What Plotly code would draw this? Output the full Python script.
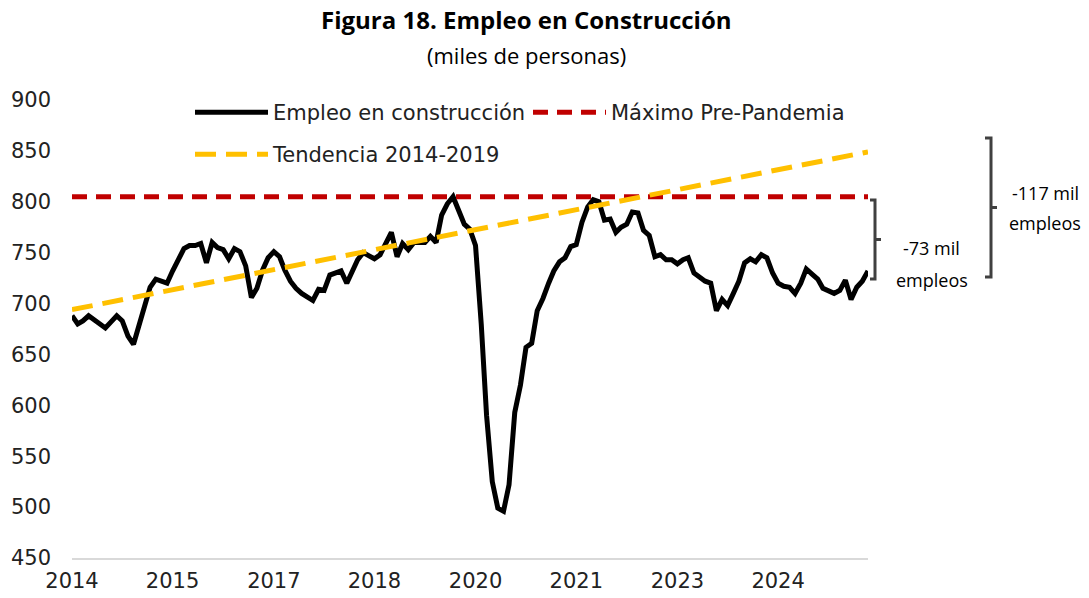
import pandas as pd
import plotly.graph_objects as go

# ---- data (miles de personas), monthly Jan-2014 .. Nov-2025 ----
start_month = "2014-01-01"
empleo = [
    688, 680, 683, 688, 684, 680, 676, 682, 688, 683, 668, 660,
    680, 700, 716, 724, 722, 720, 732, 742, 754, 757, 757, 759,
    740, 760, 755, 753, 744, 754, 751, 737, 706, 715, 733, 745,
    751, 746, 733, 722, 715, 710, 706, 703, 714, 713, 728, 730,
    732, 720, 732, 743, 750, 747, 744, 748, 760, 770, 746, 759,
    753, 760, 760, 760, 766, 760, 787, 798, 805, 790, 778, 773,
    757, 680, 590, 525, 499, 496, 522, 593, 620, 657, 661, 693,
    705, 720, 732, 741, 745, 756, 758, 780, 795, 802, 800, 782,
    783, 770, 775, 778, 790, 789, 772, 767, 746, 748, 743, 743,
    739, 743, 745, 730, 726, 722, 720, 693, 704, 698, 710, 722,
    740, 744, 741, 748, 745, 730, 720, 717, 716, 710, 720, 734,
    729, 724, 715, 713, 710, 713, 723, 704, 716, 722, 732,
]
maximo_pre_pandemia = 805
tendencia_inicio = 694
tendencia_fin = 849
tick_dates = ["2014-01-01", "2015-07-01", "2017-01-01", "2018-07-01",
              "2020-01-01", "2021-07-01", "2023-01-01", "2024-07-01"]
tick_labels = ["2014", "2015", "2017", "2018", "2020", "2021", "2023", "2024"]
brecha_maximo = "-73 mil"
brecha_tendencia = "-117 mil"

fechas = pd.date_range(start_month, periods=len(empleo), freq="MS")
ends = [fechas[0], fechas[-1]]

# plot area geometry (px)
L, R, T, B = 72, 868, 100, 558
W, H = 1089, 598
pw = R - L
def px_x(p):
    return (p - L) / pw
def px_y(p):
    return (B - p) / (B - T)

fig = go.Figure()
fig.add_trace(go.Scatter(
    x=fechas, y=empleo, mode="lines", name="Empleo en construcción",
    line=dict(color="black", width=5), legend="legend",
))
fig.add_trace(go.Scatter(
    x=ends, y=[maximo_pre_pandemia] * 2, mode="lines", name="Máximo Pre-Pandemia",
    line=dict(color="#C00000", width=5, dash="15px,9px"), legend="legend",
))
fig.add_trace(go.Scatter(
    x=ends, y=[tendencia_inicio, tendencia_fin], mode="lines", name="Tendencia 2014-2019",
    line=dict(color="#FFC000", width=5, dash="21px,10px"), legend="legend2",
))

legend_font = dict(family="DejaVu Sans", size=21, color="#222222")
fig.update_layout(
    width=W, height=H,
    margin=dict(l=L, r=W - R, t=T, b=H - B, autoexpand=False),
    plot_bgcolor="white", paper_bgcolor="white",
    showlegend=True,
    legend=dict(orientation="h", x=px_x(190), y=px_y(92), xanchor="left", yanchor="top",
                entrywidth=250, entrywidthmode="pixels", itemwidth=73,
                font=legend_font, bgcolor="rgba(0,0,0,0)"),
    legend2=dict(orientation="h", x=px_x(190), y=px_y(134), xanchor="left", yanchor="top",
                 itemwidth=73, font=legend_font, bgcolor="rgba(0,0,0,0)"),
    xaxis=dict(
        type="date", range=[fechas[0], fechas[-1]],
        tickvals=tick_dates, ticktext=tick_labels, showgrid=False,
        showline=True, linecolor="#D9D9D9", linewidth=2, zeroline=False,
        tickfont=dict(family="DejaVu Sans", size=21, color="#222222"),
        ticks="", ticklabelstandoff=3,
    ),
    yaxis=dict(
        range=[450, 900], dtick=50, showgrid=False, zeroline=False,
        tickfont=dict(family="DejaVu Sans", size=21, color="#222222"),
        ticks="", ticklabelstandoff=20,
    ),
)

def text_at(txt, xp, yp, font):
    fig.add_annotation(text=txt, xref="paper", yref="paper", x=px_x(xp), y=px_y(yp),
                       xanchor="center", yanchor="middle", showarrow=False, font=font)

# title / subtitle
text_at("<b>Figura 18. Empleo en Construcción</b>", 526, 19,
        dict(family="Open Sans", size=24, color="black"))
text_at("(miles de personas)", 526, 55, dict(family="Open Sans", size=22, color="black"))

# brackets
br_col = "#404040"
def bracket(xv, xh, xt, y0, y1):
    ym = (y0 + y1) / 2
    path = (f"M {px_x(xh)},{px_y(y1)} L {px_x(xv)},{px_y(y1)} L {px_x(xv)},{px_y(y0)} "
            f"L {px_x(xh)},{px_y(y0)} M {px_x(xv)},{px_y(ym)} L {px_x(xt)},{px_y(ym)}")
    fig.add_shape(type="path", path=path, xref="paper", yref="paper",
                  line=dict(color=br_col, width=3))

bracket(875, 870, 881, 200, 279)
bracket(991, 985, 997, 138, 277)

ann_font = dict(family="Open Sans", size=18, color="black")
for txt, xp, yp in [(brecha_maximo, 932, 248), ("empleos", 932, 280),
                    (brecha_tendencia, 1045, 193), ("empleos", 1045, 223)]:
    text_at(txt, xp, yp, ann_font)

fig.write_html("out.html", config={"displayModeBar": False},
               post_script="document.body.style.margin='0px';")
